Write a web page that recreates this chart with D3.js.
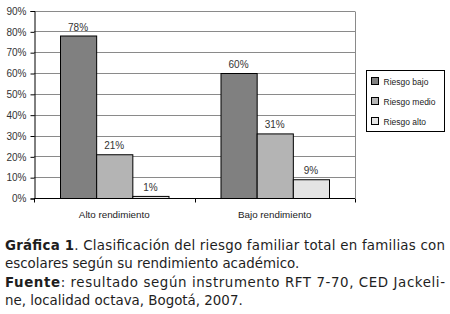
<!DOCTYPE html>
<html><head><meta charset="utf-8">
<script src="https://cdn.jsdelivr.net/npm/d3@7"></script>
<style>body{margin:0;background:#fff}svg{display:block}</style>
</head><body>
<svg id="c" width="450" height="314"></svg>
<script>
const categories = ["Alto rendimiento", "Bajo rendimiento"];
const seriesNames = ["Riesgo bajo", "Riesgo medio", "Riesgo alto"];
const riesgoBajo = [78, 60];
const riesgoMedio = [21, 31];
const riesgoAlto = [1, 9];
const yTicks = [0, 10, 20, 30, 40, 50, 60, 70, 80, 90];
const colors = ["#808080", "#b4b4b4", "#e4e4e4"];

(function () {
const seriesValues = [riesgoBajo, riesgoMedio, riesgoAlto];
const svg = d3.select("#c");
const pLeft = 34, pRight = 355, pTop = 10.5, pBottom = 198;

const x0 = d3.scaleBand().domain(categories).range([pLeft, pRight]).padding(0);
const x1 = d3.scaleBand().domain(seriesNames).range([26, x0.bandwidth() - 26]).padding(0);
const y = d3.scaleLinear().domain([0, 90]).range([pBottom, pTop]);

// gridlines
svg.append("g").selectAll("line").data(yTicks.filter(d => d > 0)).join("line")
  .attr("x1", pLeft).attr("x2", pRight)
  .attr("y1", d => Math.round(y(d)) + 0.5).attr("y2", d => Math.round(y(d)) + 0.5)
  .attr("stroke", "#8a8a8a").attr("stroke-width", 1);
svg.append("line").attr("x1", pRight + 0.5).attr("x2", pRight + 0.5)
  .attr("y1", Math.round(pTop) + 0.5).attr("y2", pBottom).attr("stroke", "#8a8a8a");

// y axis
const yAxis = d3.axisLeft(y).tickValues(yTicks).tickFormat(d => d + "%").tickSize(4).tickPadding(4);
const gy = svg.append("g").attr("transform", `translate(${pLeft + 0.5},0.5)`).call(yAxis);
gy.select(".domain").attr("stroke", "#000");
gy.selectAll(".tick line").attr("stroke", "#000");
gy.selectAll("text").attr("font-family", "Liberation Sans, Arial, sans-serif")
  .attr("font-size", "10px").attr("fill", "#333");

// bars
const groups = svg.append("g").selectAll("g").data(categories).join("g")
  .attr("transform", d => `translate(${x0(d)},0)`);
const rows = (c, i) => seriesNames.map((s, j) => ({s, j, v: seriesValues[j][i]}));
groups.selectAll("rect").data(rows).join("rect")
  .attr("x", d => x1(d.s) + 0.5).attr("width", x1.bandwidth())
  .attr("y", d => y(d.v) + 0.5).attr("height", d => pBottom - y(d.v))
  .attr("fill", d => colors[d.j]).attr("stroke", "#000").attr("stroke-width", 1);
groups.selectAll("text").data(rows).join("text")
  .attr("x", d => x1(d.s) + x1.bandwidth() / 2).attr("y", d => y(d.v) - 5)
  .attr("text-anchor", "middle").attr("font-family", "Liberation Sans, Arial, sans-serif")
  .attr("font-size", "10px").attr("fill", "#333").text(d => d.v + "%");

// x axis
const xAxis = d3.axisBottom(x0).tickSize(0).tickPadding(13);
const gx = svg.append("g").attr("transform", `translate(0,${pBottom + 0.5})`).call(xAxis);
gx.select(".domain").attr("stroke", "#000").attr("d", `M${pLeft},0H${pRight}`);
gx.selectAll("text").attr("font-family", "Liberation Sans, Arial, sans-serif")
  .attr("font-size", "9.8px").attr("fill", "#222");
const sepTicks = [pLeft, x0(categories[1]), pRight];
gx.append("g").selectAll("line").data(sepTicks).join("line")
  .attr("x1", d => Math.round(d) + 0.5).attr("x2", d => Math.round(d) + 0.5)
  .attr("y1", 0).attr("y2", 4).attr("stroke", "#000");

// legend
const lg = svg.append("g").attr("transform", "translate(366.5,70.5)");
lg.append("rect").attr("width", 78).attr("height", 61).attr("fill", "#fff").attr("stroke", "#000");
const li = lg.selectAll("g").data(seriesNames).join("g")
  .attr("transform", (d, i) => `translate(5,${7 + i * 20})`);
li.append("rect").attr("width", 7).attr("height", 7)
  .attr("fill", (d, i) => colors[i]).attr("stroke", "#000");
li.append("text").attr("x", 12).attr("y", 7).attr("font-family", "Liberation Sans, Arial, sans-serif")
  .attr("font-size", "8.5px").attr("fill", "#222").text(d => d);

// caption
const cap = svg.append("g").attr("font-family", "DejaVu Sans, Verdana, sans-serif")
  .attr("font-size", "13.4px").attr("fill", "#1e1e1e");
const lines = [
  {parts: [["Gráfica 1", true], [". Clasificación del riesgo familiar total en familias con", false]], y: 250, justify: true},
  {parts: [["escolares según su rendimiento académico.", false]], y: 268, justify: false},
  {parts: [["Fuente", true], [": resultado según instrumento RFT 7-70, CED Jackeli-", false]], y: 287, justify: true},
  {parts: [["ne, localidad octava, Bogotá, 2007.", false]], y: 305, justify: false}
];
lines.forEach(l => {
  const t = cap.append("text").attr("x", 5).attr("y", l.y);
  if (l.justify) t.attr("textLength", 440).attr("lengthAdjust", "spacing");
  l.parts.forEach(p => t.append("tspan").attr("font-weight", p[1] ? "bold" : "normal").text(p[0]));
});
})();
</script>
</body></html>
